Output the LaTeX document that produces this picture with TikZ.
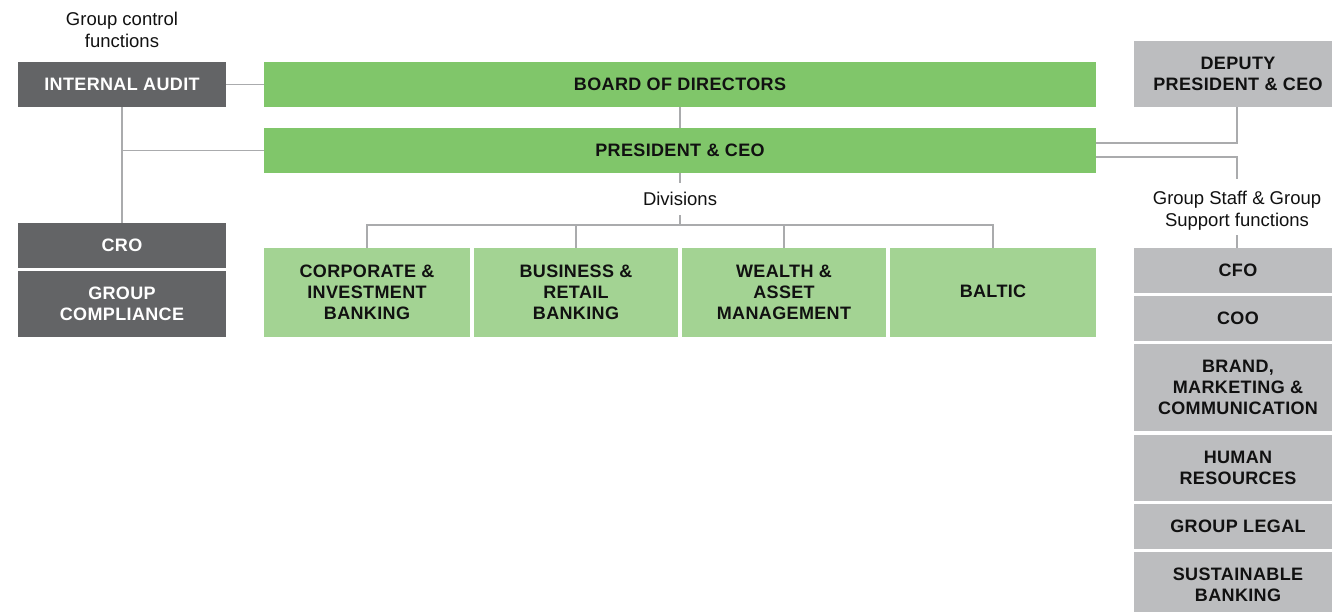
\documentclass[tikz,border=0pt]{standalone}
\usepackage{fontspec}
\setmainfont{Liberation Sans}
\newfontfamily\boxfont[LetterSpace=2]{Liberation Sans Bold}
\definecolor{darkbox}{HTML}{636466}
\definecolor{greenA}{HTML}{80C66A}
\definecolor{greenB}{HTML}{A3D393}
\definecolor{greybox}{HTML}{BCBDBF}
\definecolor{linec}{HTML}{AAABAD}
\definecolor{inkc}{HTML}{111111}
\tikzset{
  base/.style={rectangle, inner sep=0pt, align=center, font=\boxfont\fontsize{18}{21}\selectfont},
  darkn/.style={base, fill=darkbox, text=white},
  greenn/.style={base, fill=greenA, text=inkc},
  divn/.style={base, fill=greenB, text=inkc},
  greyn/.style={base, fill=greybox, text=inkc},
  lbl/.style={inner sep=0pt, align=center, text=inkc, font=\fontsize{18.5}{22}\selectfont},
  conn/.style={draw=linec, line width=1.4pt}
}
\begin{document}
\begin{tikzpicture}[x=1pt,y=-1pt]
\useasboundingbox (0,0) rectangle (1332,612);
\clip (0,0) rectangle (1332,612);
% left column
\node[lbl] (gcf) at (122,30) {Group control\\functions};
\node[darkn, minimum width=208pt, minimum height=45pt] (ia) at (122,84.5) {INTERNAL AUDIT};
\node[darkn, minimum width=208pt, minimum height=45pt] (cro) at (122,245.5) {CRO};
\node[darkn, minimum width=208pt, minimum height=66pt] (gc) at (122,304) {GROUP\\COMPLIANCE};
% centre
\node[greenn, minimum width=832pt, minimum height=45pt] (board) at (680,84.5) {BOARD OF DIRECTORS};
\node[greenn, minimum width=832pt, minimum height=45pt] (ceo) at (680,150.5) {PRESIDENT \& CEO};
\node[lbl, minimum height=32pt] (divl) at (680,199) {Divisions};
\coordinate (bus) at (680,225);
\node[divn, minimum width=206pt, minimum height=89pt] (d1) at (367,292.5) {CORPORATE \&\\INVESTMENT\\BANKING};
\node[divn, minimum width=204pt, minimum height=89pt] (d2) at (576,292.5) {BUSINESS \&\\RETAIL\\BANKING};
\node[divn, minimum width=204pt, minimum height=89pt] (d3) at (784,292.5) {WEALTH \&\\ASSET\\MANAGEMENT};
\node[divn, minimum width=206pt, minimum height=89pt] (d4) at (993,292.5) {\raisebox{3pt}{BALTIC}};
% right column
\node[greyn, minimum width=208pt, minimum height=66pt] (dep) at (1238,74) {DEPUTY\\PRESIDENT \& CEO};
\node[lbl, minimum height=56pt] (gsl) at (1237,211) {Group Staff \& Group\\Support functions};
\node[greyn, minimum width=208pt, minimum height=45pt] (cfo) at (1238,270.5) {CFO};
\node[greyn, minimum width=208pt, minimum height=45pt] (coo) at (1238,318.5) {COO};
\node[greyn, minimum width=208pt, minimum height=87pt] (brand) at (1238,387.5) {BRAND,\\MARKETING \&\\COMMUNICATION};
\node[greyn, minimum width=208pt, minimum height=66pt] (hr) at (1238,468) {HUMAN\\RESOURCES};
\node[greyn, minimum width=208pt, minimum height=45pt] (legal) at (1238,526.5) {GROUP LEGAL};
\node[greyn, minimum width=208pt, minimum height=66pt] (sust) at (1238,585) {SUSTAINABLE\\BANKING};
% connectors
\draw[conn] (ia.east) -- (board.west);
\draw[conn] (ia.south) -- (cro.north);
\draw[conn] (ia.south |- ceo.west) -- (ceo.west);
\draw[conn] (board.south) -- (ceo.north);
\draw[conn] (ceo.south) -- (divl.north);
\draw[conn] (divl.south) -- (bus);
\draw[conn] (d1.north) -- (d1.north |- bus) -- (d4.north |- bus) -- (d4.north);
\draw[conn] (d2.north) -- (d2.north |- bus);
\draw[conn] (d3.north) -- (d3.north |- bus);
\draw[conn] ([xshift=-1pt]dep.south) |- ([yshift=7.5pt]ceo.east);
\draw[conn] ([yshift=-6.5pt]ceo.east) -| ([yshift=4pt]gsl.north);
\draw[conn] ([yshift=4pt]gsl.south) -- (gsl.south |- cfo.north);
\end{tikzpicture}
\end{document}
